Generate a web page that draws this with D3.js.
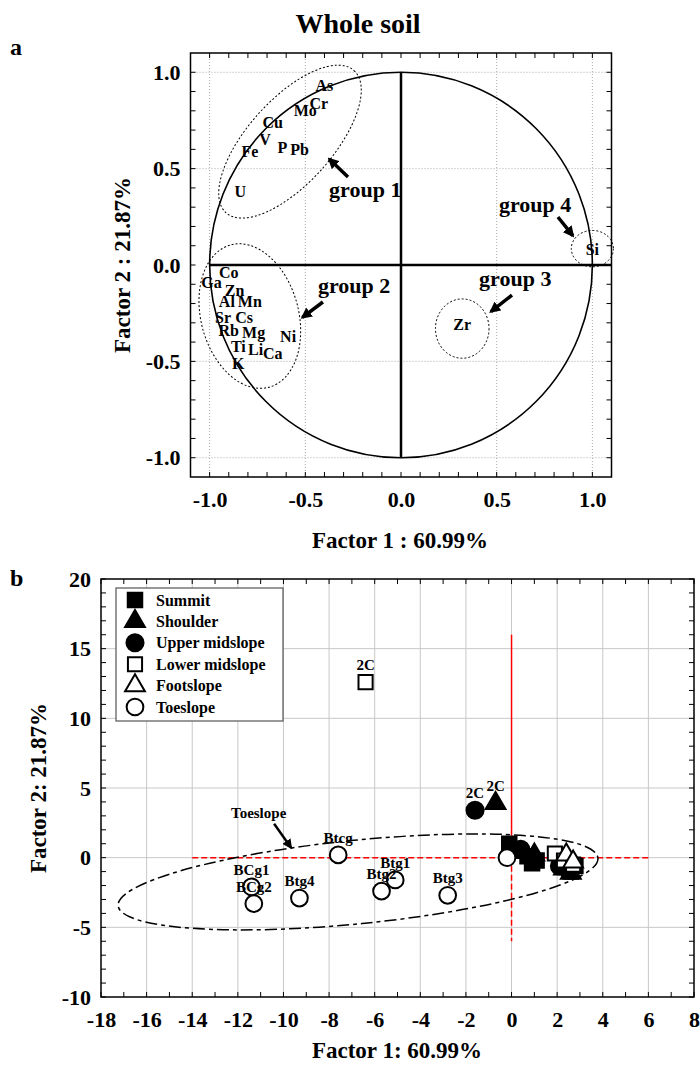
<!DOCTYPE html>
<html>
<head>
<meta charset="utf-8">
<script src="https://cdn.jsdelivr.net/npm/d3@7"></script>
<style>
  body { margin: 0; background: #fff; }
</style>
</head>
<body>
<svg id="chart" width="700" height="1066"></svg>
<script>
const fontFamily = "'Liberation Serif', 'Times New Roman', serif";

// ---- panel a : factor loadings of the elements ----
const varNames = ["As", "Cr", "Mo", "Cu", "V", "Fe", "P", "Pb", "U",
  "Co", "Ga", "Zn", "Al", "Mn", "Sr", "Cs", "Rb", "Mg", "Ni", "Ti", "Li", "Ca", "K",
  "Si", "Zr"];
const varF1 = [-0.40, -0.43, -0.50, -0.67, -0.71, -0.79, -0.62, -0.53, -0.84,
  -0.90, -0.99, -0.87, -0.91, -0.79, -0.93, -0.82, -0.90, -0.77, -0.59, -0.85, -0.76, -0.67, -0.85,
  1.00, 0.32];
const varF2 = [0.93, 0.84, 0.80, 0.74, 0.65, 0.59, 0.61, 0.60, 0.38,
  -0.04, -0.09, -0.13, -0.19, -0.19, -0.27, -0.27, -0.34, -0.35, -0.37, -0.42, -0.44, -0.46, -0.51,
  0.08, -0.31];
const ticksA = [-1.0, -0.5, 0.0, 0.5, 1.0];

// ---- panel b : factor scores by slope position ----
const slopeNames = ["Summit", "Shoulder", "Upper midslope", "Lower midslope", "Footslope", "Toeslope"];
const summitF1 = [-0.1, 0.3, 0.7, 1.1, 0.9, 2.6, 2.8];
const summitF2 = [1.0, 0.5, 0.1, -0.2, -0.4, -1.0, -0.6];
const shoulderF1 = [-0.7, 2.3, 2.6, 1.0];
const shoulderF2 = [3.9, -0.8, -1.1, 0.2];
const shoulderLab = ["2C", "", "", ""];
const upperF1 = [-1.6, 2.1, 2.5, 0.4];
const upperF2 = [3.4, -0.6, -0.9, 0.6];
const upperLab = ["2C", "", "", ""];
const lowerF1 = [-6.4, 1.9, 2.3, 2.7];
const lowerF2 = [12.6, 0.3, -0.2, -0.5];
const lowerLab = ["2C", "", "", ""];
const footF1 = [2.4, 2.7];
const footF2 = [0.2, -0.3];
const toeF1 = [-7.6, -11.4, -11.3, -9.3, -5.7, -5.1, -2.8, -0.2];
const toeF2 = [0.2, -2.1, -3.3, -2.9, -2.4, -1.6, -2.7, 0.0];
const toeLab = ["Btcg", "BCg1", "BCg2", "Btg4", "Btg2", "Btg1", "Btg3", ""];
const ticksBx = d3.range(-18, 9, 2);
const ticksBy = d3.range(-10, 21, 5);

const svg = d3.select("#chart");

// text helper
function txt(g, x, y, s, size, anchor) {
  return g.append("text")
    .attr("x", x).attr("y", y)
    .attr("font-family", fontFamily)
    .attr("font-weight", "bold")
    .attr("font-size", size + "px")
    .attr("text-anchor", anchor || "start")
    .text(s);
}

// arrow head markers
const defs = svg.append("defs");
defs.append("marker")
  .attr("id", "head")
  .attr("viewBox", "0 0 10 10")
  .attr("refX", 8).attr("refY", 5)
  .attr("markerWidth", 3.2).attr("markerHeight", 3.2)
  .attr("markerUnits", "strokeWidth")
  .attr("orient", "auto")
  .append("path").attr("d", "M0,0 L10,5 L0,10 z").attr("fill", "#000");
defs.append("marker")
  .attr("id", "headThin")
  .attr("viewBox", "0 0 10 10")
  .attr("refX", 8).attr("refY", 5)
  .attr("markerWidth", 4).attr("markerHeight", 4)
  .attr("markerUnits", "strokeWidth")
  .attr("orient", "auto")
  .append("path").attr("d", "M0,0 L10,5 L0,10 z").attr("fill", "#000");

// title + panel letters
txt(svg, 358, 33, "Whole soil", 28, "middle");
txt(svg, 10, 55, "a", 24);
txt(svg, 10, 586, "b", 24);

// =============== PANEL A ===============
const xA = d3.scaleLinear().domain([-1.1, 1.1]).range([190.5, 611.5]);
const yA = d3.scaleLinear().domain([-1.1, 1.1]).range([477, 53]);
const gA = svg.append("g");

// dotted grid
ticksA.filter(d => d !== 0).forEach(d => {
  gA.append("line").attr("x1", xA(d)).attr("x2", xA(d)).attr("y1", yA(1.1)).attr("y2", yA(-1.1))
    .attr("stroke", "#aaa").attr("stroke-width", 1).attr("stroke-dasharray", "1,2");
  gA.append("line").attr("y1", yA(d)).attr("y2", yA(d)).attr("x1", xA(-1.1)).attr("x2", xA(1.1))
    .attr("stroke", "#aaa").attr("stroke-width", 1).attr("stroke-dasharray", "1,2");
});

// unit circle
gA.append("ellipse")
  .attr("cx", xA(0)).attr("cy", yA(0))
  .attr("rx", xA(1) - xA(0)).attr("ry", yA(0) - yA(1))
  .attr("fill", "none").attr("stroke", "#000").attr("stroke-width", 1.6);

// zero axes
gA.append("line").attr("x1", xA(0)).attr("x2", xA(0)).attr("y1", yA(1)).attr("y2", yA(-1))
  .attr("stroke", "#000").attr("stroke-width", 2.5);
gA.append("line").attr("x1", xA(-1)).attr("x2", xA(1.1)).attr("y1", yA(0)).attr("y2", yA(0))
  .attr("stroke", "#000").attr("stroke-width", 2.5);

// frame + minor ticks
gA.append("rect").attr("x", xA(-1.1)).attr("y", yA(1.1))
  .attr("width", xA(1.1) - xA(-1.1)).attr("height", yA(-1.1) - yA(1.1))
  .attr("fill", "none").attr("stroke", "#000").attr("stroke-width", 1.5);
d3.range(-10, 11).map(i => i / 10).forEach(d => {
  const L = 5;
  gA.append("line").attr("x1", xA(d)).attr("x2", xA(d)).attr("y1", yA(-1.1)).attr("y2", yA(-1.1) - L).attr("stroke", "#000");
  gA.append("line").attr("x1", xA(d)).attr("x2", xA(d)).attr("y1", yA(1.1)).attr("y2", yA(1.1) + L).attr("stroke", "#000");
  gA.append("line").attr("y1", yA(d)).attr("y2", yA(d)).attr("x1", xA(-1.1)).attr("x2", xA(-1.1) + L).attr("stroke", "#000");
  gA.append("line").attr("y1", yA(d)).attr("y2", yA(d)).attr("x1", xA(1.1)).attr("x2", xA(1.1) - L).attr("stroke", "#000");
});

// axes labels
const axA = gA.append("g").attr("transform", `translate(0,${yA(-1.1)})`)
  .call(d3.axisBottom(xA).tickValues(ticksA).tickFormat(d => d.toFixed(1)).tickSize(0).tickPadding(14));
const ayA = gA.append("g").attr("transform", `translate(${xA(-1.1)},0)`)
  .call(d3.axisLeft(yA).tickValues(ticksA).tickFormat(d => d.toFixed(1)).tickSize(0).tickPadding(10));
[axA, ayA].forEach(a => {
  a.select(".domain").remove();
  a.selectAll("text").attr("font-family", fontFamily).attr("font-weight", "bold")
    .attr("font-size", "22px").attr("fill", "#000");
});

txt(svg, 400, 548, "Factor 1 : 60.99%", 23, "middle");
txt(svg, 0, 0, "Factor 2 : 21.87%", 23, "middle")
  .attr("transform", `translate(130,${yA(0)}) rotate(-90)`);

// variable labels
gA.selectAll("text.var")
  .data(varNames)
  .enter()
  .append("text")
  .attr("class", "var")
  .attr("x", (d, i) => xA(varF1[i]))
  .attr("y", (d, i) => yA(varF2[i]))
  .attr("dy", "0.35em")
  .attr("text-anchor", "middle")
  .attr("font-family", fontFamily)
  .attr("font-weight", "bold")
  .attr("font-size", "16px")
  .text(d => d);

// groups (dotted ellipses, labels, arrows)
const kA = xA(1) - xA(0);
const groupEll = [
  { cx: -0.58, cy: 0.64, rx: 0.50, ry: 0.22, rot: -48 },
  { cx: -0.79, cy: -0.265, rx: 0.255, ry: 0.385, rot: -15 },
  { cx: 0.32, cy: -0.33, rx: 0.14, ry: 0.155, rot: 0 },
  { cx: 1.00, cy: 0.085, rx: 0.11, ry: 0.095, rot: 0 }
];
groupEll.forEach(e => {
  gA.append("ellipse")
    .attr("transform", `translate(${xA(e.cx)},${yA(e.cy)}) rotate(${e.rot})`)
    .attr("rx", e.rx * kA).attr("ry", e.ry * kA)
    .attr("fill", "none").attr("stroke", "#000").attr("stroke-width", 1)
    .attr("stroke-dasharray", "2,2");
});
const groupTxt = [
  { s: "group 1", x: -0.376, y: 0.353, ax: [-0.277, 0.457], ah: [-0.375, 0.55] },
  { s: "group 2", x: -0.434, y: -0.145, ax: [-0.408, -0.192], ah: [-0.515, -0.272] },
  { s: "group 3", x: 0.408, y: -0.109, ax: [0.58, -0.156], ah: [0.47, -0.242] },
  { s: "group 4", x: 0.512, y: 0.275, ax: [0.82, 0.249], ah: [0.898, 0.152] }
];
groupTxt.forEach(g => {
  txt(gA, xA(g.x), yA(g.y), g.s, 22);
  gA.append("line")
    .attr("x1", xA(g.ax[0])).attr("y1", yA(g.ax[1]))
    .attr("x2", xA(g.ah[0])).attr("y2", yA(g.ah[1]))
    .attr("stroke", "#000").attr("stroke-width", 3.5)
    .attr("marker-end", "url(#head)");
});

// =============== PANEL B ===============
const xB = d3.scaleLinear().domain([-18, 8]).range([101, 694]);
const yB = d3.scaleLinear().domain([-10, 20]).range([997, 579]);
const gB = svg.append("g");

// grid
ticksBx.slice(1, -1).forEach(d => {
  gB.append("line").attr("x1", xB(d)).attr("x2", xB(d)).attr("y1", yB(20)).attr("y2", yB(-10))
    .attr("stroke", "#c8c8c8").attr("stroke-width", 1);
});
ticksBy.slice(1, -1).forEach(d => {
  gB.append("line").attr("y1", yB(d)).attr("y2", yB(d)).attr("x1", xB(-18)).attr("x2", xB(8))
    .attr("stroke", "#c8c8c8").attr("stroke-width", 1);
});

// frame + minor ticks
gB.append("rect").attr("x", xB(-18)).attr("y", yB(20))
  .attr("width", xB(8) - xB(-18)).attr("height", yB(-10) - yB(20))
  .attr("fill", "none").attr("stroke", "#000").attr("stroke-width", 1.5);
d3.range(-18, 9).forEach(d => {
  gB.append("line").attr("x1", xB(d)).attr("x2", xB(d)).attr("y1", yB(-10)).attr("y2", yB(-10) - 5).attr("stroke", "#000");
  gB.append("line").attr("x1", xB(d)).attr("x2", xB(d)).attr("y1", yB(20)).attr("y2", yB(20) + 5).attr("stroke", "#000");
});
d3.range(-10, 21).forEach(d => {
  gB.append("line").attr("y1", yB(d)).attr("y2", yB(d)).attr("x1", xB(-18)).attr("x2", xB(-18) + 5).attr("stroke", "#000");
  gB.append("line").attr("y1", yB(d)).attr("y2", yB(d)).attr("x1", xB(8)).attr("x2", xB(8) - 5).attr("stroke", "#000");
});

const axB = gB.append("g").attr("transform", `translate(0,${yB(-10)})`)
  .call(d3.axisBottom(xB).tickValues(ticksBx).tickFormat(d => String(d)).tickSize(0).tickPadding(14));
const ayB = gB.append("g").attr("transform", `translate(${xB(-18)},0)`)
  .call(d3.axisLeft(yB).tickValues(ticksBy).tickFormat(d => String(d)).tickSize(0).tickPadding(10));
[axB, ayB].forEach(a => {
  a.select(".domain").remove();
  a.selectAll("text").attr("font-family", fontFamily).attr("font-weight", "bold")
    .attr("font-size", "22px").attr("fill", "#000");
});

txt(svg, 397, 1058, "Factor 1: 60.99%", 23, "middle");
txt(svg, 0, 0, "Factor 2: 21.87%", 23, "middle")
  .attr("transform", `translate(46,${yB(5)}) rotate(-90)`);

// red reference cross
gB.append("line").attr("x1", xB(-14)).attr("x2", xB(6)).attr("y1", yB(0)).attr("y2", yB(0))
  .attr("stroke", "#ff0000").attr("stroke-width", 1.5).attr("stroke-dasharray", "6,3");
gB.append("line").attr("x1", xB(0)).attr("x2", xB(0)).attr("y1", yB(16)).attr("y2", yB(2))
  .attr("stroke", "#ff0000").attr("stroke-width", 1.5);
gB.append("line").attr("x1", xB(0)).attr("x2", xB(0)).attr("y1", yB(2)).attr("y2", yB(-6))
  .attr("stroke", "#ff0000").attr("stroke-width", 1.5).attr("stroke-dasharray", "6,3");

// toeslope ellipse
const ell = { cx: -6.73, cy: -1.74, rx: 10.57, ry: 3.0, rot: -5.7 };
gB.append("ellipse")
  .attr("transform", `translate(${xB(ell.cx)},${yB(ell.cy)}) rotate(${ell.rot})`)
  .attr("rx", xB(ell.rx) - xB(0)).attr("ry", yB(0) - yB(ell.ry))
  .attr("fill", "none").attr("stroke", "#000").attr("stroke-width", 1.5)
  .attr("stroke-dasharray", "12,4,4,4");

txt(gB, xB(-12.3), yB(2.87), "Toeslope", 15);
gB.append("line")
  .attr("x1", xB(-10.41)).attr("y1", yB(2.44))
  .attr("x2", xB(-9.67)).attr("y2", yB(0.72))
  .attr("stroke", "#000").attr("stroke-width", 2.5)
  .attr("marker-end", "url(#headThin)");

// symbols
const symDefs = [
  { f1: summitF1, f2: summitF2, lab: [], type: d3.symbolSquare, size: 210, fill: "#000" },
  { f1: shoulderF1, f2: shoulderF2, lab: shoulderLab, type: d3.symbolTriangle, size: 170, fill: "#000" },
  { f1: upperF1, f2: upperF2, lab: upperLab, type: d3.symbolCircle, size: 230, fill: "#000" },
  { f1: lowerF1, f2: lowerF2, lab: lowerLab, type: d3.symbolSquare, size: 200, fill: "#fff" },
  { f1: footF1, f2: footF2, lab: [], type: d3.symbolTriangle, size: 170, fill: "#fff" },
  { f1: toeF1, f2: toeF2, lab: toeLab, type: d3.symbolCircle, size: 220, fill: "#fff" }
];

symDefs.forEach(s => {
  gB.append("g").selectAll("path")
    .data(s.f1)
    .enter()
    .append("path")
    .attr("transform", (d, i) => `translate(${xB(d)},${yB(s.f2[i])})`)
    .attr("d", d3.symbol().type(s.type).size(s.size))
    .attr("fill", s.fill)
    .attr("stroke", "#000")
    .attr("stroke-width", 2);
});
symDefs.forEach(s => {
  gB.append("g").selectAll("text")
    .data(s.lab)
    .enter()
    .append("text")
    .attr("x", (d, i) => xB(s.f1[i]))
    .attr("y", (d, i) => yB(s.f2[i]) - 12)
    .attr("text-anchor", "middle")
    .attr("font-family", fontFamily)
    .attr("font-weight", "bold")
    .attr("font-size", "15px")
    .text(d => d);
});

// legend
const leg = gB.append("g");
leg.append("rect").attr("x", 116).attr("y", 588).attr("width", 167).attr("height", 133)
  .attr("fill", "#fff").attr("stroke", "#555").attr("stroke-width", 1.2);
slopeNames.forEach((n, i) => {
  const y = 600 + i * 21.4;
  leg.append("path")
    .attr("transform", `translate(135,${y})`)
    .attr("d", d3.symbol().type(symDefs[i].type).size(symDefs[i].size))
    .attr("fill", symDefs[i].fill).attr("stroke", "#000").attr("stroke-width", 2);
  txt(leg, 156, y + 5.5, n, 16);
});
</script>
</body>
</html>
